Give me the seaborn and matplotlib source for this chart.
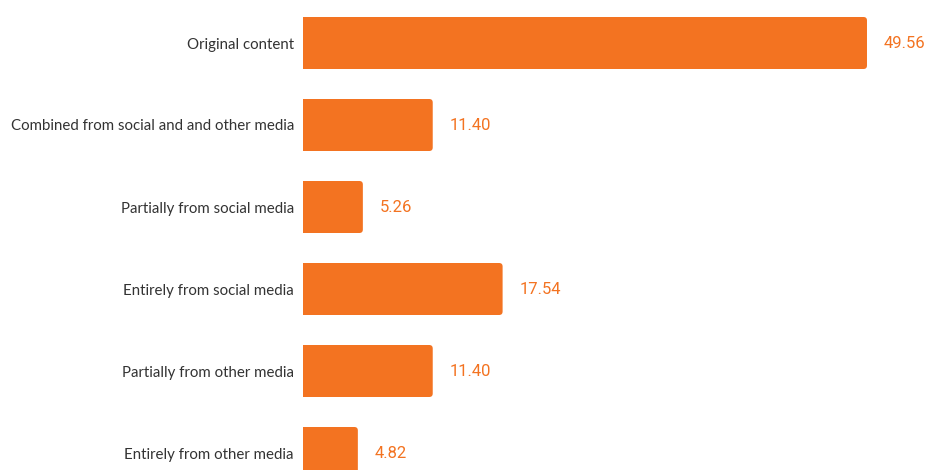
import matplotlib
matplotlib.use("Agg")
import matplotlib.pyplot as plt
from matplotlib.patches import FancyBboxPatch
import seaborn as sns
import pandas as pd

categories = [
    "Original content",
    "Combined from social and and other media",
    "Partially from social media",
    "Entirely from social media",
    "Partially from other media",
    "Entirely from other media",
]
values = [49.56, 11.40, 5.26, 17.54, 11.40, 4.82]

BAR_COLOR = "#F37321"
LABEL_COLOR = "#333333"

sns.set_theme(style="white")
plt.rcParams["font.family"] = ["Lato", "DejaVu Sans"]

df = pd.DataFrame({"source": categories, "share": values})

W, H, DPI = 927, 470, 100
fig = plt.figure(figsize=(W / DPI, H / DPI), dpi=DPI)
fig.patch.set_facecolor("white")

# axes frame in pixels: left edge at the bar base, bottom row runs past the figure edge
left_px, right_px = 303, 927
top_px, bottom_px = 2, 494
ax = fig.add_axes([left_px / W, (H - bottom_px) / H,
                   (right_px - left_px) / W, (bottom_px - top_px) / H])

bar_h = 52 / 82
sns.barplot(data=df, x="share", y="source", color=BAR_COLOR, saturation=1,
            width=bar_h, ax=ax, orient="h")

px_per_x = 11.38
xmax = (right_px - left_px) / px_per_x
ax.set_xlim(0, xmax)
ax.set_ylim(len(categories) - 0.5, -0.5)

container = ax.containers[0]
ax.bar_label(container, labels=[f"{v:.2f}" for v in values], padding=12,
             color=BAR_COLOR, fontsize=12, family=["Roboto", "DejaVu Sans"])

# swap plain rectangles for right-rounded bars (left corners hidden past the axis edge)
px_per_y = 82
radius_px = 3.5
aspect = px_per_x / px_per_y
for rect in list(container.patches):
    x0, y0 = rect.get_x(), rect.get_y()
    w, h = rect.get_width(), rect.get_height()
    rect.set_visible(False)
    shift = 1.0
    fb = FancyBboxPatch((x0 - shift, y0), w + shift, h,
                        boxstyle=f"round,pad=0,rounding_size={radius_px / px_per_x}",
                        mutation_aspect=aspect,
                        facecolor=BAR_COLOR, edgecolor="none", clip_on=True)
    ax.add_patch(fb)

for s in ax.spines.values():
    s.set_visible(False)
ax.set_xlabel("")
ax.set_ylabel("")
ax.set_xticks([])
ax.tick_params(axis="y", length=0, pad=6.5, labelsize=10.8, labelcolor=LABEL_COLOR)
for t in ax.get_yticklabels():
    t.set_family(["Lato", "DejaVu Sans"])

fig.savefig("out.png", dpi=DPI, facecolor="white")
